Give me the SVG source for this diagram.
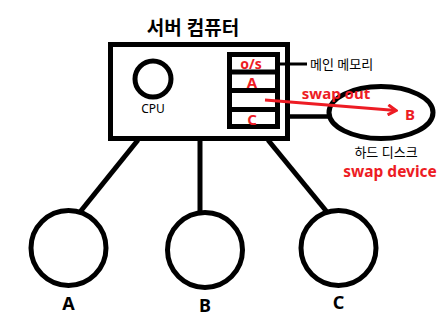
<svg xmlns="http://www.w3.org/2000/svg" width="445" height="320" viewBox="0 0 445 320">
<defs>
<style>
.k{fill:none;stroke:#000;stroke-width:5}
.t{font-family:"Noto Sans","Noto Sans CJK KR",sans-serif;text-anchor:middle}
.b{font-weight:bold}
.r{fill:#ed1c24}
.blk{fill:#000}
</style>
<marker id="ah" markerWidth="12" markerHeight="12" refX="10" refY="6" orient="auto" markerUnits="userSpaceOnUse">
<path d="M2,1 L10,6 L2,11" fill="none" stroke="#ed1c24" stroke-width="3"/>
</marker>
</defs>
<rect width="445" height="320" fill="#fff"/>
<g id="server">
<text class="t b blk" x="193" y="35" font-size="19" font-family="Noto Sans CJK KR,sans-serif">서버 컴퓨터</text>
<rect class="k" x="110.5" y="44.5" width="177" height="94" stroke-width="6"/>
</g>
<g id="cpu">
<circle class="k" cx="153" cy="79" r="18"/>
<text class="t blk" x="153" y="113" font-size="12">CPU</text>
</g>
<g id="memory">
<rect class="k" x="229.5" y="54.5" width="48" height="72"/>
<line class="k" x1="229.5" y1="72" x2="277.5" y2="72" stroke-width="4.5"/>
<line class="k" x1="229.5" y1="90.5" x2="277.5" y2="90.5" stroke-width="4.5"/>
<line class="k" x1="229.5" y1="109.5" x2="277.5" y2="109.5" stroke-width="4.5"/>
<text class="t b r" x="251" y="69" font-size="14">o/s</text>
<text class="t b r" x="252" y="88" font-size="15">A</text>
<text class="t b r" x="252" y="125" font-size="15">C</text>
<text class="t blk" x="310" y="69" font-size="13" style="text-anchor:start">메인 메모리</text>
</g>
<g id="disk">
<ellipse class="k" cx="381" cy="112.5" rx="52" ry="26" stroke-width="4.5"/>
<text class="t b r" x="410" y="120" font-size="15">B</text>
<text class="t blk" x="386" y="157" font-size="13">하드 디스크</text>
<text class="t b r" x="390" y="177" font-size="15.5">swap device</text>
</g>
<g id="procA">
<circle class="k" cx="68.5" cy="248" r="37.5"/>
<text class="t b blk" x="68.5" y="310" font-size="18">A</text>
</g>
<g id="procB">
<circle class="k" cx="205" cy="250" r="37.5"/>
<text class="t b blk" x="205" y="312" font-size="18">B</text>
</g>
<g id="procC">
<circle class="k" cx="338.5" cy="248" r="37.5"/>
<text class="t b blk" x="338.5" y="309" font-size="18">C</text>
</g>
<g id="connectors">
<line x1="280" y1="64" x2="307" y2="64" stroke="#000" stroke-width="3"/>
<line x1="287" y1="116.5" x2="329" y2="116.5" stroke="#000" stroke-width="4.5"/>
<line x1="138" y1="140" x2="80" y2="212" stroke="#000" stroke-width="5"/>
<line x1="200" y1="140" x2="200" y2="212" stroke="#000" stroke-width="5"/>
<line x1="268" y1="140" x2="327" y2="212" stroke="#000" stroke-width="5"/>
<line x1="265" y1="100" x2="396" y2="110.5" stroke="#ed1c24" stroke-width="3" marker-end="url(#ah)"/>
<text class="t b r" x="336" y="99" font-size="15">swap out</text>
</g>
</svg>
